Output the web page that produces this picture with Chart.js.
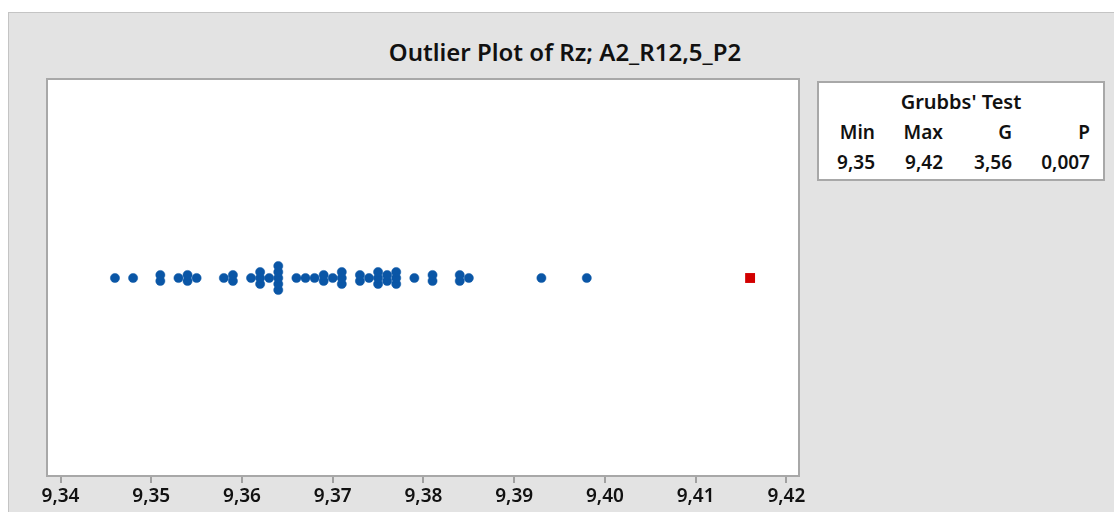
<!DOCTYPE html>
<html lang="es">
<head>
<meta charset="utf-8">
<title>Outlier Plot of Rz</title>
<script src="https://cdn.jsdelivr.net/npm/chart.js@4.4.1/dist/chart.umd.min.js"></script>
<style>
  body { margin: 0; width: 1114px; height: 512px; overflow: hidden; background: #fff; font-family: "Noto Sans", sans-serif; color: #111; }
  #panel { position: absolute; left: 8px; top: 12px; width: 1106px; height: 500px; background: #e3e3e3;
           border-left: 1px solid #c4c4c4; border-top: 1px solid #c4c4c4; box-sizing: border-box; }
  #titulo { position: absolute; left: 12px; width: 1106px; top: 35px; text-align: center; font-size: 24px; font-weight: 600; }
  #grafica { position: absolute; left: 0; top: 0; }
  #grubbs { position: absolute; left: 817px; top: 81px; width: 288px; height: 100px; box-sizing: border-box;
            background: #fff; border: 2px solid #a8a8a8; padding-top: 4px; font-size: 19px; font-weight: 600; line-height: 30px; }
  #grubbs .cab { text-align: center; font-size: 20px; }
  #grubbs .fila { display: grid; grid-template-columns: 56px 68px 69px 78px; }
  #grubbs .fila span { text-align: right; }
</style>
</head>
<body>
<div id="panel"></div>
<div id="titulo">Outlier Plot of Rz; A2_R12,5_P2</div>
<canvas id="grafica" width="1114" height="512"></canvas>
<div id="grubbs">
  <div class="cab">Grubbs' Test</div>
  <div class="fila" id="filaCab"></div>
  <div class="fila" id="filaVal"></div>
</div>
<script>
// valores de Rz (los repetidos se apilan en vertical)
const valoresRz = [
  9.346, 9.348, 9.351, 9.351, 9.353, 9.354, 9.354, 9.355,
  9.358, 9.359, 9.359, 9.361, 9.362, 9.362, 9.362, 9.363,
  9.364, 9.364, 9.364, 9.364, 9.364, 9.366, 9.367, 9.368,
  9.369, 9.369, 9.370, 9.371, 9.371, 9.371, 9.373, 9.373,
  9.374, 9.375, 9.375, 9.375, 9.376, 9.376, 9.377, 9.377,
  9.377, 9.379, 9.381, 9.381, 9.384, 9.384, 9.385, 9.393, 9.398
];
const valorAtipico = [9.416];
const marcasEje = [9.34, 9.35, 9.36, 9.37, 9.38, 9.39, 9.40, 9.41, 9.42];

const encabezadosGrubbs = ['Min', 'Max', 'G', 'P'];
const resultadosGrubbs = ['9,35', '9,42', '3,56', '0,007'];

function llenarFila(id, textos) {
  const fila = document.getElementById(id);
  textos.forEach(t => {
    const s = document.createElement('span');
    s.textContent = t;
    fila.appendChild(s);
  });
}
llenarFila('filaCab', encabezadosGrubbs);
llenarFila('filaVal', resultadosGrubbs);

// apila los puntos iguales alrededor de y = 0
function apilar(valores, paso) {
  const conteo = {};
  valores.forEach(v => conteo[v] = (conteo[v] || 0) + 1);
  const visto = {};
  return valores.map(v => {
    const k = visto[v] = (visto[v] || 0) + 1;
    return { x: v, y: (k - 1 - (conteo[v] - 1) / 2) * paso };
  });
}

// fondo blanco y marco del area de datos
const marco = {
  id: 'marco',
  beforeDraw(chart) {
    const a = chart.chartArea, ctx = chart.ctx;
    ctx.save();
    ctx.fillStyle = '#fff';
    ctx.fillRect(a.left, a.top, a.right - a.left, a.bottom - a.top);
    ctx.restore();
  },
  beforeDatasetsDraw(chart) {
    const a = chart.chartArea, ctx = chart.ctx;
    ctx.save();
    ctx.strokeStyle = '#a8a8a8';
    ctx.lineWidth = 2;
    ctx.strokeRect(a.left - 1, a.top - 1, a.right - a.left + 2, a.bottom - a.top + 2);
    ctx.restore();
  }
};

const ctx = document.getElementById('grafica').getContext('2d');
new Chart(ctx, {
  type: 'scatter',
  data: {
    datasets: [
      {
        data: apilar(valoresRz, 6),
        backgroundColor: '#0a56a6',
        borderColor: '#0a56a6',
        borderWidth: 0.5,
        pointRadius: 4.6
      },
      {
        data: valorAtipico.map(v => ({ x: v, y: 0 })),
        pointStyle: 'rect',
        backgroundColor: '#d20000',
        borderWidth: 0,
        pointRadius: 7
      }
    ]
  },
  options: {
    responsive: false,
    animation: false,
    devicePixelRatio: 1,
    layout: { padding: { left: 48, top: 80, right: 316, bottom: 0 } },
    plugins: { legend: { display: false }, tooltip: { enabled: false } },
    scales: {
      x: {
        type: 'linear',
        min: 9.33862,
        max: 9.42128,
        afterBuildTicks: scale => { scale.ticks = marcasEje.map(v => ({ value: v })); },
        afterFit: scale => { scale.height = 37; },
        border: { display: false },
        grid: { drawOnChartArea: false, drawTicks: true, tickLength: 8, color: '#a0a0a0', lineWidth: 2 },
        ticks: {
          autoSkip: false,
          maxRotation: 0,
          padding: 2,
          color: '#111',
          font: { family: 'Noto Sans', size: 19, weight: '600' },
          callback: v => v.toFixed(2).replace('.', ',')
        }
      },
      y: { display: false, min: -197, max: 198 }
    }
  },
  plugins: [marco]
});
</script>
</body>
</html>
